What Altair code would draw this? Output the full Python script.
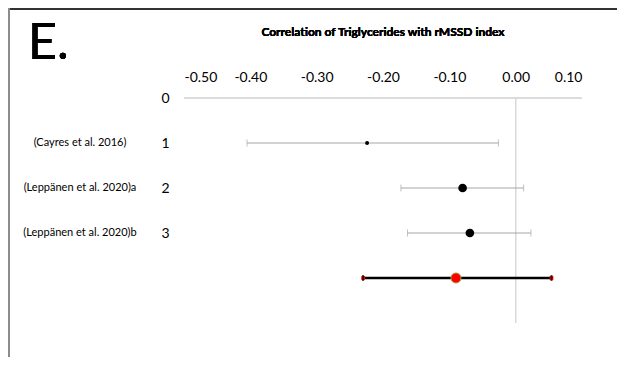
import altair as alt
import pandas as pd

studies = ["(Cayres et al. 2016)", "(Leppänen et al. 2020)a", "(Leppänen et al. 2020)b", ""]
rows = [1, 2, 3, 4]
r_values = [-0.224, -0.080, -0.069, -0.090]
ci_low = [-0.405, -0.173, -0.163, -0.230]
ci_high = [-0.026, 0.012, 0.023, 0.054]
x_ticks = [-0.5, -0.4, -0.3, -0.2, -0.1, 0.0, 0.1]
y_ticks = [0, 1, 2, 3]
title_text = "Correlation of Triglycerides with rMSSD index"
panel_letter = "E."

df = pd.DataFrame({"study": studies, "row": rows, "r": r_values, "lo": ci_low, "hi": ci_high})

FONT = "Lato"
xs = alt.Scale(domain=[-0.5, 0.1], nice=False, zero=False)
ys = alt.Scale(domain=[0, 5], reverse=True, nice=False)

xenc = alt.X("r:Q", scale=xs, axis=alt.Axis(orient="top", values=x_ticks, domain=False,
                                            labelExpr="replace(format(datum.value, '.2f'), '\u2212', '-')",
                                            ticks=False, grid=False, labelPadding=14, labelFontSize=14,
                                            labelColor="#000", labelFont=FONT, title=None))
yenc = alt.Y("row:Q", scale=ys, axis=alt.Axis(values=y_ticks, domain=False, ticks=False, grid=False,
                                             labelPadding=15, labelFontSize=14, labelColor="#000",
                                             labelFont=FONT, format="d", title=None))

base = alt.Chart(df)

# reference lines
hline = alt.Chart(df).mark_rule(color="#d9d9d9", strokeWidth=1).encode(
    x=alt.datum(-0.5, scale=xs), x2=alt.datum(0.1), y=alt.datum(0, scale=ys))
vline = alt.Chart(df).mark_rule(color="#d9d9d9", strokeWidth=1).encode(
    x=alt.datum(0.0, scale=xs), y=alt.datum(0, scale=ys), y2=alt.datum(5))

studies_only = base.transform_filter(alt.datum.row < 4)
pooled = base.transform_filter(alt.datum.row == 4)

err = studies_only.mark_rule(color="#a6a6a6", strokeWidth=1).encode(
    x=alt.X("lo:Q", scale=xs), x2="hi:Q", y=alt.Y("row:Q", scale=ys))
cap_lo = studies_only.mark_tick(color="#a6a6a6", orient="vertical", size=7, thickness=1).encode(
    x=alt.X("lo:Q", scale=xs), y=alt.Y("row:Q", scale=ys))
cap_hi = studies_only.mark_tick(color="#a6a6a6", orient="vertical", size=7, thickness=1).encode(
    x=alt.X("hi:Q", scale=xs), y=alt.Y("row:Q", scale=ys))

pt_small = base.transform_filter(alt.datum.row == 1).mark_point(
    filled=True, color="#000", size=16, opacity=1).encode(x=xenc, y=yenc)
pt_big = base.transform_filter((alt.datum.row == 2) | (alt.datum.row == 3)).mark_point(
    filled=True, color="#000", size=75, opacity=1).encode(x=xenc, y=yenc)

perr = pooled.mark_rule(color="#000", strokeWidth=2.5).encode(
    x=alt.X("lo:Q", scale=xs), x2="hi:Q", y=alt.Y("row:Q", scale=ys))
pcap_lo = pooled.mark_square(color="#ff0000", size=14, opacity=1).encode(
    x=alt.X("lo:Q", scale=xs), y=alt.Y("row:Q", scale=ys))
pcap_hi = pooled.mark_square(color="#ff0000", size=14, opacity=1).encode(
    x=alt.X("hi:Q", scale=xs), y=alt.Y("row:Q", scale=ys))
ptick_lo = pooled.mark_tick(color="#000", orient="vertical", size=6, thickness=2).encode(
    x=alt.X("lo:Q", scale=xs), y=alt.Y("row:Q", scale=ys))
ptick_hi = pooled.mark_tick(color="#000", orient="vertical", size=6, thickness=2).encode(
    x=alt.X("hi:Q", scale=xs), y=alt.Y("row:Q", scale=ys))
ppt = pooled.mark_point(filled=True, color="#ff0000", stroke="#a0a040", strokeWidth=1, size=100,
                        opacity=1).encode(x=alt.X("r:Q", scale=xs), y=alt.Y("row:Q", scale=ys))

labels = studies_only.mark_text(align="center", baseline="middle", fontSize=11, font=FONT,
                                color="#000").encode(
    x=alt.value(-104), y=alt.Y("row:Q", scale=ys), text="study:N")

big_e = alt.Chart(df).mark_text(text=panel_letter, align="left", baseline="alphabetic", fontSize=50,
                                font=FONT, color="#000").encode(
    x=alt.value(-156), y=alt.value(-39))

title = alt.Chart(df).mark_text(text=title_text, align="center", baseline="middle", fontSize=12,
                                fontWeight="bold", font=FONT, color="#000").encode(
    x=alt.value(199), y=alt.value(-66))

border_top = alt.Chart(df).mark_rule(color="#333333", strokeWidth=1.5).encode(
    x=alt.value(-176), x2=alt.value(441), y=alt.value(-89))
border_left = alt.Chart(df).mark_rule(color="#8c8c8c", strokeWidth=2).encode(
    x=alt.value(-175), y=alt.value(-90), y2=alt.value(270))

chart = alt.layer(
    hline, vline, err, cap_lo, cap_hi, perr, pcap_lo, pcap_hi, ptick_lo, ptick_hi,
    pt_small, pt_big, ppt, labels, big_e, title, border_top, border_left
).properties(
    width=398, height=225,
    background="#ffffff",
    autosize=alt.AutoSizeParams(type="none"),
    padding={"left": 176, "top": 90, "right": 35, "bottom": 34},
).configure_view(stroke=None)

chart.save("out.html", embed_options={"renderer": "svg", "actions": False})
